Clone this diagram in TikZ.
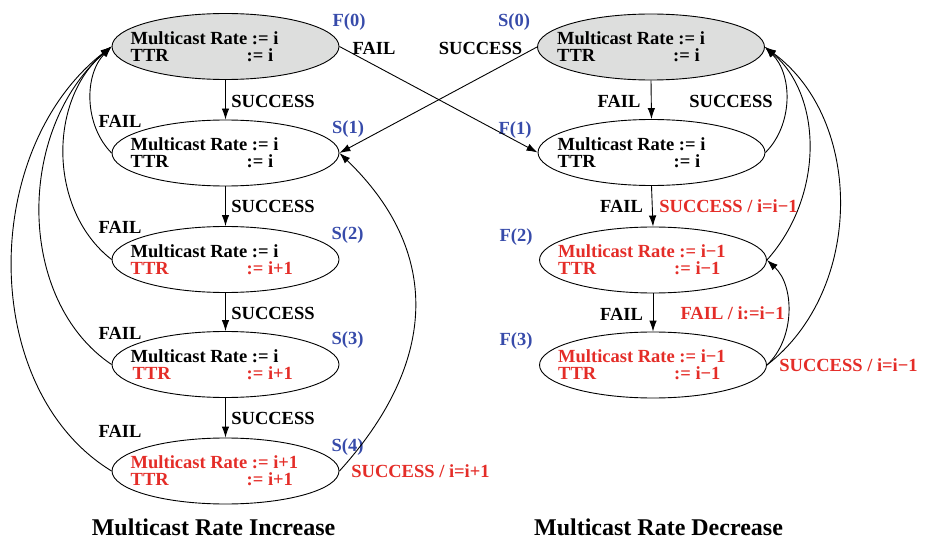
\documentclass[tikz,border=0pt]{standalone}
\usepackage{fontspec}
\setmainfont{Liberation Serif}
\usetikzlibrary{arrows.meta,shapes.geometric}
\definecolor{lblue}{RGB}{55,75,170}
\definecolor{lred}{RGB}{228,45,40}
\definecolor{lgray}{RGB}{221,222,221}
\begin{document}
\begin{tikzpicture}[x=1pt,y=-1pt,
  st/.style={ellipse,draw,line width=0.9pt,minimum width=227pt,minimum height=66pt,inner sep=0pt},
  init/.style={st,fill=lgray},
  txt/.style={anchor=west,inner sep=0pt,align=left,font=\fontsize{18.5}{17}\selectfont\bfseries},
  lbl/.style={inner sep=0pt,text height=12.3pt,text depth=0pt,font=\fontsize{18.5}{17}\selectfont\bfseries},
  blbl/.style={lbl,text=lblue},
  rlbl/.style={lbl,text=lred},
  ttl/.style={inner sep=0pt,text height=15.9pt,text depth=0pt,font=\fontsize{24}{28}\selectfont\bfseries},
  arr/.style={line width=0.9pt,-{Latex[length=11pt,width=7.5pt]}}]
\useasboundingbox (0,0) rectangle (929,540);

% ---------- left column (increase) ----------
\node[init] (A0) at (225.5,46.5) {};
\node[st] (A1) at (225.5,153) {};
\node[st] (A2) at (225.5,259.5) {};
\node[st] (A3) at (225.5,364.5) {};
\node[st] (A4) at (225.5,471) {};

\node[txt] (tA0) at (130.5,46.5) {Multicast Rate := i\\\makebox[116pt][l]{TTR}:= i};
\node[txt] (tA1) at (130.5,153) {Multicast Rate := i\\\makebox[116pt][l]{TTR}:= i};
\node[txt] (tA2) at (130.5,259.5) {Multicast Rate := i\\{\color{lred}\makebox[116pt][l]{TTR}:= i+1}};
\node[txt] (tA3) at (130.5,364.5) {Multicast Rate := i\\{\color{lred}\makebox[116pt][l]{\hspace{2pt}TTR}:= i+1}};
\node[txt,text=lred] (tA4) at (130.5,471) {Multicast Rate := i+1\\\makebox[116pt][l]{TTR}:= i+1};

% ---------- right column (decrease) ----------
\node[init] (B0) at (651,47) {};
\node[st] (B1) at (651.5,152.5) {};
\node[st] (B2) at (653,260) {};
\node[st] (B3) at (653,365) {};

\node[txt] (tB0) at (557,47) {Multicast Rate := i\\\makebox[116pt][l]{TTR}:= i};
\node[txt] (tB1) at (557.5,152.5) {Multicast Rate := i\\\makebox[116pt][l]{TTR}:= i};
\node[txt,text=lred] (tB2) at (558,260) {Multicast Rate := i−1\\\makebox[116pt][l]{TTR}:= i−1};
\node[txt,text=lred] (tB3) at (558,365) {Multicast Rate := i−1\\\makebox[116pt][l]{TTR}:= i−1};

% ---------- state labels ----------
\node[blbl] (lF0) at (349,20.5) {F(0)};
\node[blbl] (lS1) at (348,127) {S(1)};
\node[blbl] (lS2) at (347.5,233) {S(2)};
\node[blbl] (lS3) at (347.5,338) {S(3)};
\node[blbl] (lS4) at (347.5,445) {S(4)};
\node[blbl] (lS0) at (514,20.5) {S(0)};
\node[blbl] (lF1) at (515,128) {F(1)};
\node[blbl] (lF2) at (516,235) {F(2)};
\node[blbl] (lF3) at (516,339) {F(3)};

% ---------- connectors, left ----------
\draw[arr] (A0.south) -- (A1.north);
\draw[arr] (A1.south) -- (A2.north);
\draw[arr] (A2.south) -- (A3.north);
\draw[arr] (A3.south) -- (A4.north);

\draw[arr] (A1.west) .. controls (84,125) and (84,75) .. (A0.west);
\draw[arr] (A2.west) .. controls (48,210) and (48,100) .. (A0.west);
\draw[arr] (A3.west) .. controls (16,300) and (16,130) .. (A0.west);
\draw[arr] (A4.west) .. controls (-21,390) and (-21,150) .. (A0.west);

\draw[arr] (A4.east) .. controls (440,360) and (440,250) .. (A1.east);

% ---------- crossing connectors ----------
\draw[arr] (A0.east) -- (B1.west);
\draw[arr] (B0.west) -- (A1.east);

% ---------- connectors, right ----------
\draw[arr] (B0.south) -- (B1.north);
\draw[arr] (B1.south) -- (B2.north);
\draw[arr] (B2.south) -- (B3.north);

\draw[arr] (B1.east) .. controls (793,125) and (793,75) .. (B0.east);
\draw[arr] (B2.east) .. controls (825,195) and (822,95) .. (B0.east);
\draw[arr] (B3.east) .. controls (864,290) and (864,120) .. (B0.east);
\draw[arr] (B3.east) .. controls (795,339) and (795,286) .. (B2.east);

% ---------- transition labels ----------
\node[lbl] (fA0) at (374,48.5) {FAIL};
\node[lbl] (sA01) at (273,101) {SUCCESS};
\node[lbl] (fA1) at (120,121.5) {FAIL};
\node[lbl] (sA12) at (273,206.5) {SUCCESS};
\node[lbl] (fA2) at (120,227.5) {FAIL};
\node[lbl] (sA23) at (273,313) {SUCCESS};
\node[lbl] (fA3) at (120,333.5) {FAIL};
\node[lbl] (sA34) at (273,418.5) {SUCCESS};
\node[lbl] (fA4) at (120,431.5) {FAIL};
\node[rlbl] (sA4) at (420.5,471.5) {SUCCESS / i=i+1};

\node[lbl] (sB0) at (480.5,48.5) {SUCCESS};
\node[lbl] (fB01) at (619,101) {FAIL};
\node[lbl] (sB1) at (731,101) {SUCCESS};
\node[lbl] (fB12) at (621.5,206.5) {FAIL};
\node[rlbl] (sB2) at (728.5,206.5) {SUCCESS / i=i−1};
\node[lbl] (fB23) at (621.5,314) {FAIL};
\node[rlbl] (fB3) at (732.5,313.5) {FAIL / i:=i−1};
\node[rlbl] (sB3) at (848.5,365.5) {SUCCESS / i=i−1};

% ---------- titles ----------
\node[ttl] (tinc) at (213.5,528) {Multicast Rate Increase};
\node[ttl] (tdec) at (658.5,528) {Multicast Rate Decrease};
\end{tikzpicture}
\end{document}
